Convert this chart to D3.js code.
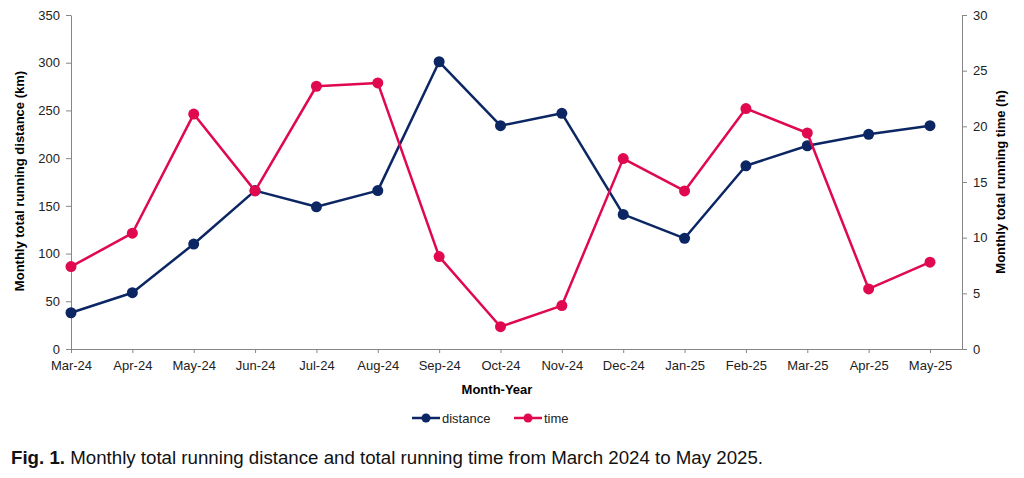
<!DOCTYPE html>
<html>
<head>
<meta charset="utf-8">
<script src="https://cdn.jsdelivr.net/npm/d3@7"></script>
<style>
  body { margin: 0; background: #fff; }
  svg { display: block; font-family: 'Liberation Sans', Arial, sans-serif; }
  .axis path, .axis line { stroke: #868686; }
  .axis text { fill: #222; font-size: 13px; }
</style>
</head>
<body>
<svg id="chart" width="1024" height="478"></svg>
<script>
// month labels along the bottom
const months = ['Mar-24', 'Apr-24', 'May-24', 'Jun-24', 'Jul-24', 'Aug-24', 'Sep-24', 'Oct-24',
  'Nov-24', 'Dec-24', 'Jan-25', 'Feb-25', 'Mar-25', 'Apr-25', 'May-25']
// monthly distance in km (left axis)
const distance = [38, 59, 110, 166, 149, 166, 301, 234, 247, 141, 116, 192, 213, 225, 234]
// monthly time in hours (right axis)
const time = [7.4, 10.4, 21.1, 14.2, 23.6, 23.9, 8.3, 2.0, 3.9, 17.1, 14.2, 21.6, 19.4, 5.4, 7.8]
const distTicks = [0, 50, 100, 150, 200, 250, 300, 350]
const timeTicks = [0, 5, 10, 15, 20, 25, 30]

const colors = { distance: '#0b2663', time: '#e0084e' }

const svg = d3.select('#chart')
const plot = { left: 71, right: 962, top: 15, bottom: 349 }

// points sit on the ticks, last month leaves some room before the right axis
const xScale = d3.scalePoint()
  .domain(months)
  .range([plot.left, 930])

const yLeft = d3.scaleLinear().domain([0, 350]).range([plot.bottom, plot.top])
const yRight = d3.scaleLinear().domain([0, 30]).range([plot.bottom, plot.top])

// axes
const xAxis = svg.append('g')
  .attr('class', 'axis')
  .attr('transform', `translate(0,${plot.bottom})`)
  .call(d3.axisBottom(xScale).tickSize(4).tickSizeOuter(0))
xAxis.select('.domain').attr('d', `M${plot.left},0.5H${plot.right}`)
xAxis.selectAll('text').attr('dy', '1.05em')

svg.append('g')
  .attr('class', 'axis')
  .attr('transform', `translate(${plot.left},0)`)
  .call(d3.axisLeft(yLeft).tickValues(distTicks).tickSize(5).tickSizeOuter(0).tickPadding(6))

svg.append('g')
  .attr('class', 'axis')
  .attr('transform', `translate(${plot.right},0)`)
  .call(d3.axisRight(yRight).tickValues(timeTicks).tickSize(5).tickSizeOuter(0).tickPadding(6))

// axis titles
svg.append('text')
  .attr('transform', `translate(24,${(plot.top + plot.bottom) / 2 - 1}) rotate(-90)`)
  .attr('text-anchor', 'middle')
  .style('font-size', '13px')
  .style('font-weight', 'bold')
  .text('Monthly total running distance (km)')

svg.append('text')
  .attr('transform', `translate(1005,${(plot.top + plot.bottom) / 2}) rotate(-90)`)
  .attr('text-anchor', 'middle')
  .style('font-size', '13px')
  .style('font-weight', 'bold')
  .text('Monthly total running time (h)')

svg.append('text')
  .attr('x', 497)
  .attr('y', 394)
  .attr('text-anchor', 'middle')
  .style('font-size', '13px')
  .style('font-weight', 'bold')
  .text('Month-Year')

/**
 * Draws one series as a line with round markers
 *
 * @param {Array} values the series values
 * @param {*} yScale the scale of the axis it belongs to
 * @param {string} color the series colour
 */
function drawSeries (values, yScale, color) {
  const line = d3.line()
    .x((d, i) => xScale(months[i]))
    .y(d => yScale(d))
  svg.append('path')
    .datum(values)
    .attr('fill', 'none')
    .attr('stroke', color)
    .attr('stroke-width', 2.5)
    .attr('stroke-linejoin', 'round')
    .attr('d', line)
  svg.append('g')
    .selectAll('circle')
    .data(values)
    .enter()
    .append('circle')
    .attr('cx', (d, i) => xScale(months[i]))
    .attr('cy', d => yScale(d))
    .attr('r', 5.5)
    .attr('fill', color)
}

drawSeries(distance, yLeft, colors.distance)
drawSeries(time, yRight, colors.time)

// legend
const legendItems = [
  { name: 'distance', color: colors.distance, x: 412 },
  { name: 'time', color: colors.time, x: 514 }
]
const leg = svg.append('g')
  .selectAll('g')
  .data(legendItems)
  .enter()
  .append('g')
  .attr('transform', d => `translate(${d.x},418)`)
leg.append('line')
  .attr('x1', 0).attr('x2', 28)
  .attr('stroke', d => d.color)
  .attr('stroke-width', 2.5)
leg.append('circle')
  .attr('cx', 14).attr('r', 4.5)
  .attr('fill', d => d.color)
leg.append('text')
  .attr('x', 30)
  .attr('dy', '0.35em')
  .style('font-size', '13px')
  .style('fill', '#222')
  .text(d => d.name)

// caption
const cap = svg.append('text')
  .attr('x', 11)
  .attr('y', 464)
  .style('font-size', '18.7px')
  .style('fill', '#111')
cap.append('tspan').style('font-weight', 'bold').text('Fig. 1.')
cap.append('tspan').text(' Monthly total running distance and total running time from March 2024 to May 2025.')
</script>
</body>
</html>
